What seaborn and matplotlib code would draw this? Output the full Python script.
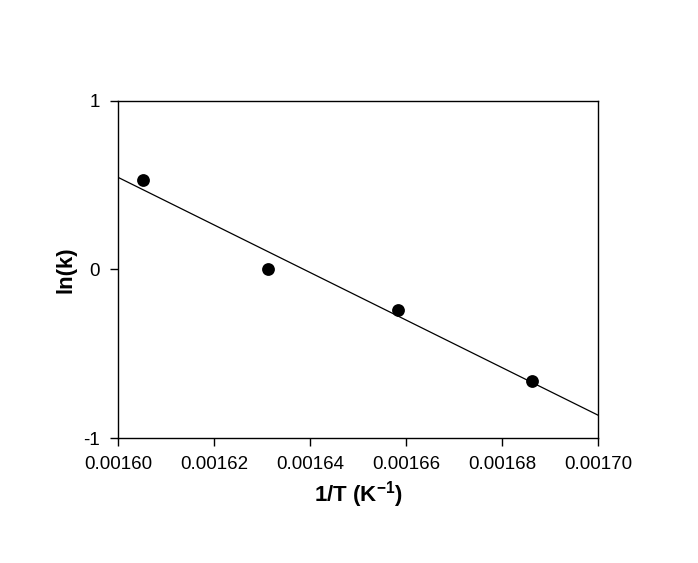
import numpy as np
import pandas as pd
import matplotlib
matplotlib.use('Agg')
import matplotlib.pyplot as plt
import seaborn as sns
from matplotlib.ticker import FormatStrFormatter

# data
inv_T = [0.0016052, 0.0016313, 0.0016583, 0.0016863]
ln_k = [0.531, 0.0, -0.240, -0.662]
x_ticks = [0.00160, 0.00162, 0.00164, 0.00166, 0.00168, 0.00170]
y_ticks = [-1, 0, 1]

sns.set_style('ticks')
plt.rcParams['font.family'] = ['Liberation Sans', 'DejaVu Sans']
plt.rcParams['axes.unicode_minus'] = False

df = pd.DataFrame({'inv_T': inv_T, 'ln_k': ln_k})

fig = plt.figure(figsize=(6.98, 5.63), dpi=100)
ax = fig.add_axes([0.169, 0.222, 0.688, 0.599])

ax.set_xlim(x_ticks[0], x_ticks[-1])
ax.set_ylim(y_ticks[0], y_ticks[-1])

# least squares fit across the full x range
slope, intercept = np.polyfit(df['inv_T'], df['ln_k'], 1)
fit = pd.DataFrame({'x': x_ticks})
fit['y'] = slope * fit['x'] + intercept
sns.lineplot(data=fit, x='x', y='y', ax=ax, color='black', linewidth=0.9)

sns.scatterplot(data=df, x='inv_T', y='ln_k', ax=ax, color='black',
                s=85, edgecolor='black', linewidth=0, zorder=3)

ax.set_xticks(x_ticks)
ax.set_yticks(y_ticks)
ax.xaxis.set_major_formatter(FormatStrFormatter('%.5f'))
ax.tick_params(direction='out', length=6, width=1, labelsize=13.5,
               colors='black', pad=7)
for sp in ax.spines.values():
    sp.set_visible(True)
    sp.set_linewidth(1)
    sp.set_color('black')

ax.set_xlabel('1/T (K$^{\\mathregular{-1}}$)', fontsize=16, fontweight='bold',
              labelpad=4, color='black')
ax.set_ylabel('ln(k)', fontsize=16, fontweight='bold', labelpad=5, color='black')

fig.savefig('out.png', dpi=100)
